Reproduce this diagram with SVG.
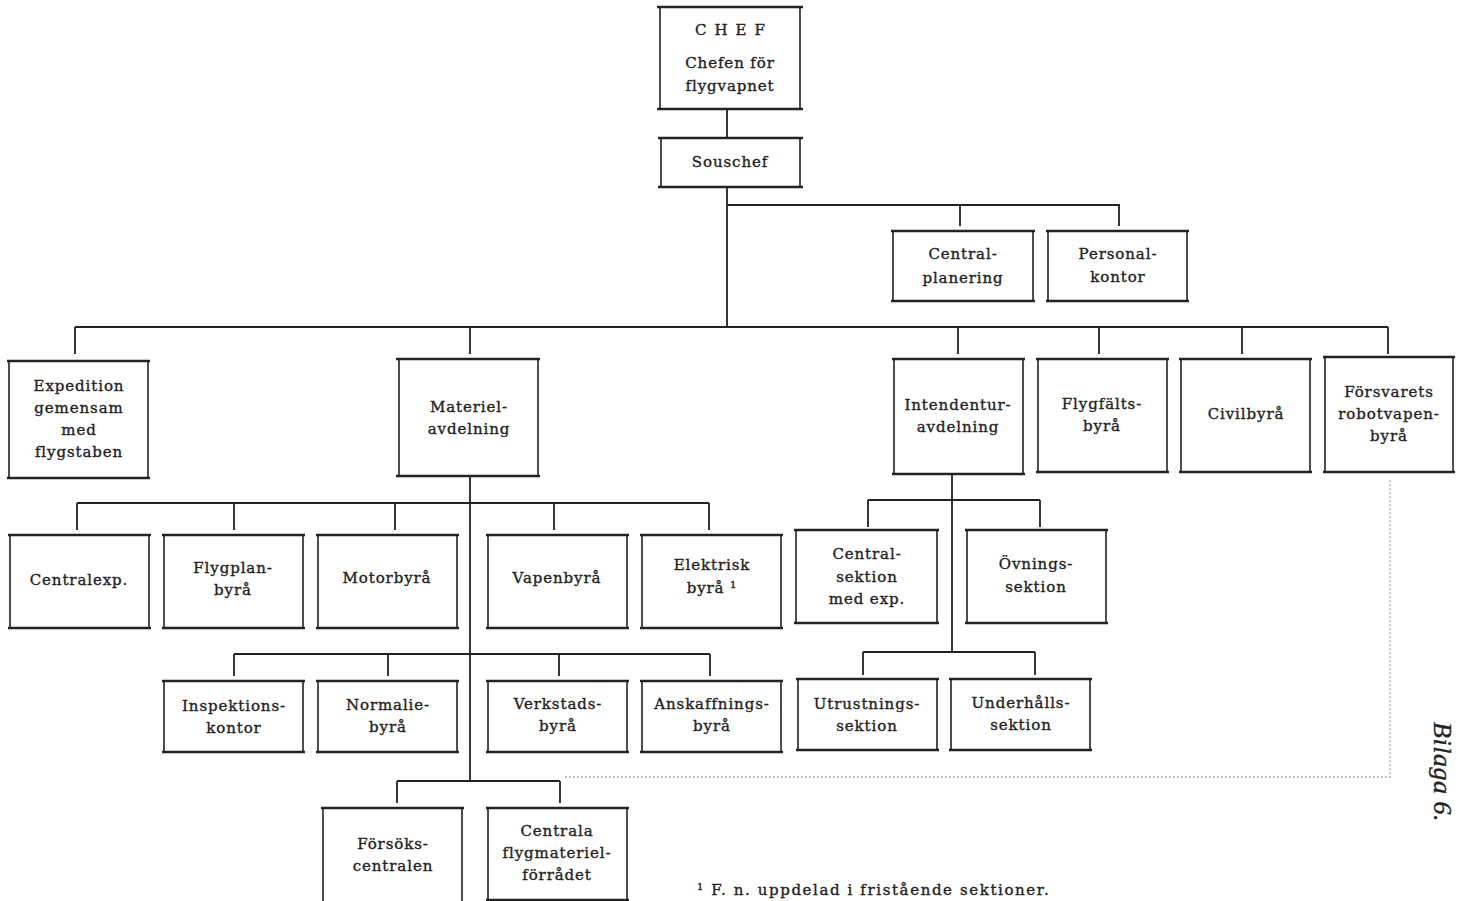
<svg xmlns="http://www.w3.org/2000/svg" width="1458" height="901" viewBox="0 0 1458 901">
<style>
.bg{fill:#fff}
.side{fill:none;stroke:#222;stroke-width:1.6}
.tb{fill:none;stroke:#222;stroke-width:2.6}
.c{fill:none;stroke:#222;stroke-width:1.8}
.dot{fill:none;stroke:#999;stroke-width:1.4;stroke-dasharray:1.5 2.5}
text{font-family:"DejaVu Serif","Liberation Serif",serif;font-size:15px;fill:#222;stroke:#222;stroke-width:0.35;text-anchor:middle;letter-spacing:0.9px}
.fn{font-size:15px;text-anchor:start;letter-spacing:1.6px}
.bil{font-family:"Liberation Serif",serif;font-style:italic;font-size:26px;letter-spacing:0.5px}
.sp{letter-spacing:8px}
</style>
<rect class="bg" width="1458" height="901"/>
<g id="connectors">
<path class="c" d="M727 109V137M727 187V327M727 205H1120M960 205V226M1119 205V226"/>
<path class="c" d="M75 327H1388M75 327V354M470 327V354M958 327V354M1099 327V354M1242 327V354M1388 327V354"/>
<path class="c" d="M470 476V781M77 503H709M77 503V530M234 503V530M395 503V530M554 503V530M709 503V530"/>
<path class="c" d="M234 654H710M234 654V676M388 654V676M559 654V676M710 654V676"/>
<path class="c" d="M397 781H560M397 781V803M560 781V803"/>
<path class="c" d="M952 474V652M868 500H1040M868 500V527M1040 500V527M863 652H1035M863 652V675M1035 652V675"/>
<path class="dot" d="M565 777H1390V478"/>
</g>
<g id="chef"><path class="side" d="M660 8V108M800 8V108"/><path class="tb" d="M657 7H803M657 109H803"/>
<text class="sp" x="734" y="35">CHEF</text><text x="730" y="68">Chefen för</text><text x="730" y="91">flygvapnet</text></g>
<g id="souschef"><path class="side" d="M661 139V186M800 139V186"/><path class="tb" d="M658 138H803M658 187H803"/><text x="730" y="167">Souschef</text></g>
<g id="centralplanering"><path class="side" d="M893 232V300M1033 232V300"/><path class="tb" d="M891 231H1035M891 301H1035"/><text x="963" y="259">Central-</text><text x="963" y="283">planering</text></g>
<g id="personalkontor"><path class="side" d="M1048 232V300M1187 232V300"/><path class="tb" d="M1046 231H1189M1046 301H1189"/><text x="1118" y="259">Personal-</text><text x="1118" y="282">kontor</text></g>
<g id="expedition"><path class="side" d="M9 362V477M148 362V477"/><path class="tb" d="M7 361H150M7 478H150"/><text x="79" y="391">Expedition</text><text x="79" y="413">gemensam</text><text x="79" y="435">med</text><text x="79" y="457">flygstaben</text></g>
<g id="materiel"><path class="side" d="M399 360V475M538 360V475"/><path class="tb" d="M396 359H540M396 476H540"/><text x="469" y="412">Materiel-</text><text x="469" y="434">avdelning</text></g>
<g id="intendentur"><path class="side" d="M894 360V473M1023 360V473"/><path class="tb" d="M892 359H1025M892 474H1025"/><text x="958" y="410">Intendentur-</text><text x="958" y="432">avdelning</text></g>
<g id="flygfalts"><path class="side" d="M1038 360V471M1167 360V471"/><path class="tb" d="M1036 359H1169M1036 472H1169"/><text x="1102" y="409">Flygfälts-</text><text x="1102" y="431">byrå</text></g>
<g id="civilbyra"><path class="side" d="M1181 360V471M1310 360V471"/><path class="tb" d="M1179 359H1312M1179 472H1312"/><text x="1246" y="419">Civilbyrå</text></g>
<g id="forsvarets"><path class="side" d="M1325 358V471M1453 358V471"/><path class="tb" d="M1323 357H1455M1323 472H1455"/><text x="1389" y="397">Försvarets</text><text x="1389" y="419">robotvapen-</text><text x="1389" y="441">byrå</text></g>
<g id="centralexp"><path class="side" d="M10 536V627M149 536V627"/><path class="tb" d="M8 535H151M8 628H151"/><text x="79" y="585">Centralexp.</text></g>
<g id="flygplanbyra"><path class="side" d="M164 536V627M303 536V627"/><path class="tb" d="M162 535H305M162 628H305"/><text x="233" y="573">Flygplan-</text><text x="233" y="595">byrå</text></g>
<g id="motorbyra"><path class="side" d="M318 536V627M457 536V627"/><path class="tb" d="M316 535H459M316 628H459"/><text x="387" y="583">Motorbyrå</text></g>
<g id="vapenbyra"><path class="side" d="M488 536V627M627 536V627"/><path class="tb" d="M486 535H629M486 628H629"/><text x="557" y="583">Vapenbyrå</text></g>
<g id="elektrisk"><path class="side" d="M642 536V627M781 536V627"/><path class="tb" d="M640 535H783M640 628H783"/><text x="712" y="570">Elektrisk</text><text x="712" y="593">byrå <tspan font-size="10" dy="-5">1</tspan></text></g>
<g id="centralsektion"><path class="side" d="M796 531V622M937 531V622"/><path class="tb" d="M794 530H939M794 623H939"/><text x="867" y="559">Central-</text><text x="867" y="582">sektion</text><text x="867" y="604">med exp.</text></g>
<g id="ovningssektion"><path class="side" d="M967 531V622M1106 531V622"/><path class="tb" d="M965 530H1108M965 623H1108"/><text x="1036" y="569">Övnings-</text><text x="1036" y="592">sektion</text></g>
<g id="inspektions"><path class="side" d="M164 682V751M303 682V751"/><path class="tb" d="M162 681H305M162 752H305"/><text x="234" y="711">Inspektions-</text><text x="234" y="733">kontor</text></g>
<g id="normalie"><path class="side" d="M318 682V751M457 682V751"/><path class="tb" d="M316 681H459M316 752H459"/><text x="388" y="710">Normalie-</text><text x="388" y="732">byrå</text></g>
<g id="verkstads"><path class="side" d="M488 682V751M627 682V751"/><path class="tb" d="M486 681H629M486 752H629"/><text x="558" y="709">Verkstads-</text><text x="558" y="731">byrå</text></g>
<g id="anskaffnings"><path class="side" d="M642 682V751M781 682V751"/><path class="tb" d="M640 681H783M640 752H783"/><text x="712" y="709">Anskaffnings-</text><text x="712" y="731">byrå</text></g>
<g id="utrustnings"><path class="side" d="M798 680V749M937 680V749"/><path class="tb" d="M796 679H939M796 750H939"/><text x="867" y="709">Utrustnings-</text><text x="867" y="731">sektion</text></g>
<g id="underhalls"><path class="side" d="M951 680V749M1090 680V749"/><path class="tb" d="M949 679H1092M949 750H1092"/><text x="1021" y="708">Underhålls-</text><text x="1021" y="730">sektion</text></g>
<g id="forsoks"><path class="side" d="M323 809V901M462 809V901"/><path class="tb" d="M321 808H464"/><text x="393" y="849">Försöks-</text><text x="393" y="871">centralen</text></g>
<g id="centrala"><path class="side" d="M488 809V899M627 809V899"/><path class="tb" d="M486 808H629M486 900H629"/><text x="557" y="836">Centrala</text><text x="557" y="858">flygmateriel-</text><text x="557" y="880">förrådet</text></g>
<text class="fn" x="697" y="895"><tspan font-size="10" dy="-5">1</tspan><tspan dy="5"> F. n. uppdelad i fristående sektioner.</tspan></text>
<text class="bil" transform="translate(1434 772) rotate(90)">Bilaga 6.</text>
</svg>
